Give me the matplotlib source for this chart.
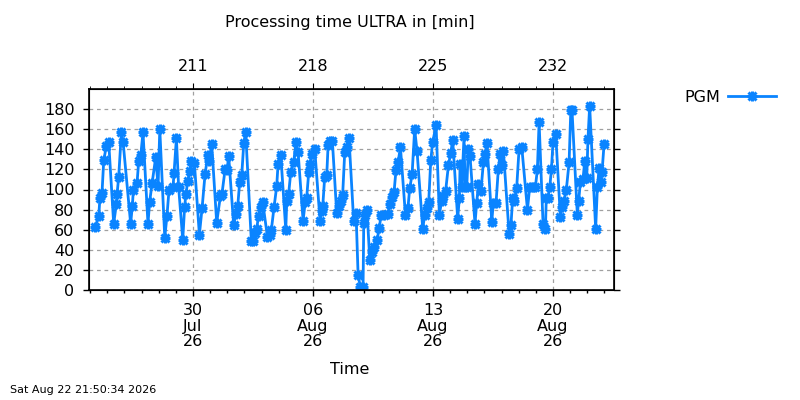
import datetime as dt
import matplotlib
matplotlib.use("Agg")
import matplotlib.pyplot as plt
from matplotlib.ticker import FixedLocator, MultipleLocator

# time of each run as fractional day of year 2026, and processing time in minutes
day_of_year = [
    205.30, 205.50, 205.57, 205.69, 205.79, 205.94, 206.08, 206.37, 206.53, 206.57,
    206.66, 206.82, 206.92, 207.36, 207.46, 207.52, 207.73, 207.83, 207.95, 208.08,
    208.37, 208.47, 208.61, 208.82, 208.96, 209.06, 209.35, 209.48, 209.60, 209.83,
    209.89, 210.03,
    210.16, 210.40, 210.51, 210.59, 210.69, 210.82, 210.88, 211.08, 211.37, 211.53,
    211.70, 211.86, 211.95, 212.09, 212.38, 212.60, 212.69, 212.87, 212.98, 213.08,
    213.37, 213.51, 213.61, 213.72, 213.84, 213.96, 214.07, 214.40, 214.52, 214.62,
    214.71, 214.83, 214.97, 215.06,
    215.34, 215.49, 215.57, 215.73, 215.88, 215.96, 216.12, 216.41, 216.47, 216.58,
    216.70, 216.87, 217.01, 217.13, 217.42, 217.55, 217.63, 217.75, 217.83, 217.94,
    218.10, 218.41, 218.51, 218.57, 218.68, 218.80, 218.88, 218.99, 219.13, 219.38,
    219.50, 219.62, 219.73, 219.85, 220.01, 220.10,
    220.37, 220.51, 220.63, 220.76, 220.92, 220.96, 221.06, 221.15, 221.31, 221.44,
    221.54, 221.74, 221.87, 221.97, 222.16, 222.38, 222.51, 222.61, 222.73, 222.84,
    222.96, 223.10, 223.39, 223.54, 223.64, 223.78, 223.93, 224.07, 224.40, 224.52,
    224.63, 224.75, 224.87, 224.98, 225.18, 225.37,
    225.51, 225.61, 225.74, 225.90, 226.03, 226.15, 226.44, 226.54, 226.58, 226.68,
    226.81, 226.87, 226.97, 227.06, 227.16, 227.45, 227.55, 227.65, 227.80, 227.94,
    228.04, 228.15, 228.43, 228.52, 228.68, 228.81, 228.91, 229.01, 229.11, 229.44,
    229.55, 229.65, 229.75, 229.88, 230.02, 230.18, 230.51,
    230.64, 230.84, 230.97, 231.09, 231.19, 231.42, 231.56, 231.61, 231.71, 231.81,
    231.91, 232.00, 232.16, 232.43, 232.53, 232.65, 232.78, 232.94, 233.04, 233.11,
    233.42, 233.50, 233.60, 233.75, 233.85, 233.97, 234.04, 234.14, 234.49, 234.59,
    234.69, 234.79, 234.86, 234.98,
]
pgm_minutes = [
    63, 74, 92, 97, 129, 143, 147, 66, 86, 96,
    112, 157, 147, 66, 84, 100, 106, 128, 134, 157,
    66, 88, 106, 132, 103, 160, 52, 74, 100, 102,
    116, 151,
    102, 50, 83, 96, 108, 118, 128, 126, 55, 82,
    115, 134, 128, 145, 67, 94, 96, 120, 119, 133,
    65, 76, 84, 107, 114, 146, 157, 49, 49, 57,
    61, 74, 83, 88,
    53, 55, 60, 83, 103, 125, 134, 60, 89, 96,
    117, 127, 147, 137, 69, 88, 92, 117, 125, 135,
    140, 69, 79, 84, 112, 114, 144, 148, 148, 77,
    84, 89, 95, 137, 142, 151,
    69, 77, 15, 3, 3, 67, 75, 80, 30, 38,
    43, 50, 62, 75, 75, 76, 86, 93, 98, 119,
    127, 142, 75, 82, 101, 115, 160, 138, 61, 75,
    82, 88, 129, 147, 164, 75,
    89, 94, 99, 124, 136, 149, 71, 92, 125, 102,
    153, 102, 102, 140, 133, 66, 87, 105, 99, 127,
    135, 146, 68, 87, 87, 120, 135, 124, 138, 56,
    65, 92, 89, 101, 140, 142, 80,
    102, 102, 102, 120, 167, 66, 61, 92, 92, 102,
    120, 147, 155, 73, 83, 89, 100, 127, 179, 179,
    75, 89, 107, 110, 128, 111, 150, 183, 61, 102,
    121, 107, 117, 145,
]
major_days = [211, 218, 225, 232]
y_ticks = [0, 20, 40, 60, 80, 100, 120, 140, 160, 180]

def date_label(doy):
    d = dt.date(2026, 1, 1) + dt.timedelta(days=doy - 1)
    return d.strftime("%d\n%b\n%y")

blue = "#0a84ff"
grid_col = "#a0a0a0"
fs = 11.5

fig = plt.figure(figsize=(8, 4), dpi=100)
ax = fig.add_axes([89/800, 110/400, 525/800, 201/400])

# gnuplot style "*" point: a plus and a cross on top of each other
l1, = ax.plot(day_of_year, pgm_minutes, color=blue, lw=2,
              marker="+", ms=7, mew=2.2)
l2, = ax.plot(day_of_year, pgm_minutes, color=blue, lw=0, ls="none",
              marker="x", ms=6, mew=2.2)

ax.set_xlim(204.93, 235.56)
ax.set_ylim(0, 200)
ax.xaxis.set_major_locator(FixedLocator(major_days))
ax.xaxis.set_minor_locator(MultipleLocator(1))
ax.set_xticklabels([date_label(d) for d in major_days], fontsize=fs, linespacing=1.05)
ax.set_yticks(y_ticks)
ax.set_yticklabels([str(v) for v in y_ticks], fontsize=fs)
ax.tick_params(axis="both", which="major", direction="out", length=4.5, width=1)
ax.tick_params(axis="x", which="major", pad=5)
ax.tick_params(axis="y", which="major", pad=6, right=True)
ax.tick_params(axis="x", which="minor", direction="out", length=2.5, width=1)
ax.grid(True, which="major", color=grid_col, ls=(0, (3, 3)), lw=0.9)
for s in ax.spines.values():
    s.set_linewidth(1.2)

top = ax.twiny()
top.set_xlim(ax.get_xlim())
top.xaxis.set_major_locator(FixedLocator(major_days))
top.xaxis.set_minor_locator(MultipleLocator(1))
top.set_xticklabels([str(d) for d in major_days], fontsize=fs)
top.tick_params(axis="x", which="major", direction="out", length=4.5, pad=6)
top.tick_params(axis="x", which="minor", direction="out", length=2.5)

fig.text(350/800, 1 - 23/400, "Processing time ULTRA in [min]", ha="center", va="center", fontsize=fs)
fig.text(350/800, 1 - 370/400, "Time", ha="center", va="center", fontsize=fs)
fig.text(10/800, 1 - 390/400, "Sat Aug 22 21:50:34 2026", ha="left", va="center", fontsize=8)

fig.legend([(l1, l2)], ["PGM"], loc="center left", bbox_to_anchor=(684/800, 1 - 97/400),
           frameon=False, markerfirst=False, handlelength=3.0, handletextpad=0.5,
           borderpad=0, borderaxespad=0, fontsize=fs)

fig.savefig("out.png", dpi=100)
